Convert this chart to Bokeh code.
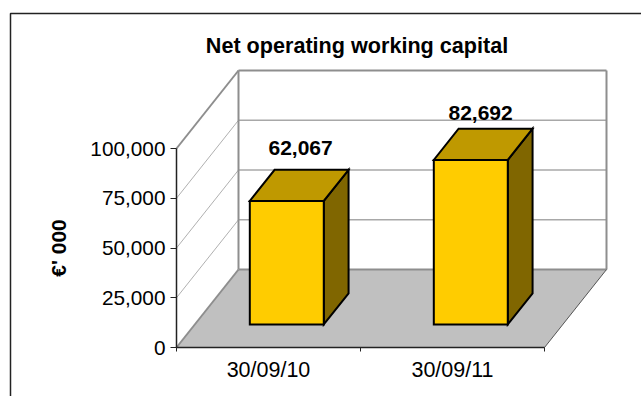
from bokeh.core.properties import value
from bokeh.embed import file_html
from bokeh.models import (BoxAnnotation, ColumnDataSource, FixedTicker,
                          LinearAxis, Range1d)
from bokeh.plotting import figure
from bokeh.resources import INLINE

# Chart content
TITLE = "Net operating working capital"
Y_LABEL = "€' 000"
categories = ["30/09/10", "30/09/11"]
capital = [62067, 82692]
value_ticks = [0, 25000, 50000, 75000, 100000]
value_tick_labels = ["0", "25,000", "50,000", "75,000", "100,000"]

W, H = 641, 396
FONT = "Liberation Sans"

# Pixel placement of the plot box's front face
LEFT_PX, RIGHT_PX = 176.0, 544.0
ZERO_PX, TOP_PX = 347.0, 148.0
UNIT_PX = (RIGHT_PX - LEFT_PX) / len(categories)
VALUE_PX = (ZERO_PX - TOP_PX) / value_ticks[-1]

# Oblique projection: depth runs 0 (front) to 1 (back wall)
DEPTH_DX = 62.0 / UNIT_PX
DEPTH_DY = 78.0 / VALUE_PX


def project(cat, val, depth=0.0):
    return cat + depth * DEPTH_DX, val + depth * DEPTH_DY


def path(*points):
    pts = [project(*pt) for pt in points]
    return [q[0] for q in pts], [q[1] for q in pts]


p = figure(
    width=W, height=H, output_backend="svg", toolbar_location=None,
    x_range=Range1d(-LEFT_PX / UNIT_PX, (W - LEFT_PX) / UNIT_PX),
    y_range=Range1d(-(H - ZERO_PX) / VALUE_PX, ZERO_PX / VALUE_PX),
    x_axis_type=None, y_axis_type=None, min_border=0,
)
p.grid.visible = False
p.outline_line_color = None
p.background_fill_color = "white"
p.border_fill_color = "white"

n = len(categories)
top = value_ticks[-1]

# Floor of the box
fx, fy = path((0, 0, 0), (n, 0, 0), (n, 0, 1), (0, 0, 1))
p.patch(fx, fy, fill_color="#C0C0C0", line_color=None)

# Gridlines across the side wall and back wall
for v in value_ticks[1:-1]:
    sx, sy = path((0, v, 0), (0, v, 1))
    p.line(sx, sy, line_color="#B0B0B0", line_width=1)
    bx, by = path((0, v, 1), (n, v, 1))
    p.line(bx, by, line_color="#A8A8A8", line_width=1.3)

# Wall outlines
for a, b in [((0, top, 0), (0, top, 1)), ((0, top, 1), (n, top, 1)),
             ((0, top, 1), (0, 0, 1)), ((n, top, 1), (n, 0, 1)),
             ((0, 0, 1), (n, 0, 1)), ((0, 0, 0), (0, 0, 1))]:
    ex, ey = path(a, b)
    p.line(ex, ey, line_color="#8E8E8E", line_width=2)
ex, ey = path((n, 0, 0), (n, 0, 1))
p.line(ex, ey, line_color="#555555", line_width=1)

# Bars as three-faced prisms
BAR_WIDTH = 0.402
BAR_D0, BAR_D1 = 0.295, 0.695
EDGE = dict(line_color="black", line_width=2, line_join="miter")
for i, v in enumerate(capital):
    x0 = i + 0.5 - BAR_WIDTH / 2
    x1 = x0 + BAR_WIDTH
    sx, sy = path((x1, 0, BAR_D0), (x1, 0, BAR_D1), (x1, v, BAR_D1), (x1, v, BAR_D0))
    p.patch(sx, sy, fill_color="#806600", **EDGE)
    tx, ty = path((x0, v, BAR_D0), (x1, v, BAR_D0), (x1, v, BAR_D1), (x0, v, BAR_D1))
    p.patch(tx, ty, fill_color="#BF9900", **EDGE)
    qx, qy = path((x0, 0, BAR_D0), (x1, 0, BAR_D0), (x1, v, BAR_D0), (x0, v, BAR_D0))
    p.patch(qx, qy, fill_color="#FFCC00", **EDGE)

# Value labels above the bars
lx, ly = path(*[(i + 0.5 + BAR_WIDTH / 2, v, BAR_D1) for i, v in enumerate(capital)])
labels = ColumnDataSource(dict(
    x=lx, y=ly, text=[f"{v:,}" for v in capital],
    xo=[-48.0, -52.0], yo=[-22.0, -15.5],
))
p.text("x", "y", text="text", source=labels, x_offset="xo", y_offset="yo",
       text_font=value(FONT), text_font_style="bold", text_font_size="21px",
       text_align="center", text_baseline="middle", text_color="black")

# Axes
yaxis = LinearAxis(
    fixed_location=0, bounds=(0, top),
    ticker=FixedTicker(ticks=value_ticks, minor_ticks=[]),
    major_label_overrides=dict(zip(value_ticks, value_tick_labels)),
    major_label_text_font=FONT, major_label_text_font_size="20.8px",
    major_label_text_color="black", major_label_standoff=5,
    major_tick_in=0, major_tick_out=6, major_tick_line_color="#222222",
    minor_tick_line_color=None,
    axis_line_color="#222222", axis_line_width=1.5,
    axis_label=Y_LABEL, axis_label_text_font=FONT,
    axis_label_text_font_style="bold", axis_label_text_font_size="21px",
    axis_label_text_color="black", axis_label_standoff=17,
)
p.add_layout(yaxis, "left")

centers = [i + 0.5 for i in range(n)]
xaxis = LinearAxis(
    fixed_location=0, bounds=(0, n),
    ticker=FixedTicker(ticks=centers, minor_ticks=list(range(n + 1))),
    major_label_overrides=dict(zip(centers, categories)),
    major_label_text_font=FONT, major_label_text_font_size="21.5px",
    major_label_text_color="black", major_label_standoff=4,
    major_tick_line_color=None, minor_tick_in=0, minor_tick_out=4,
    minor_tick_line_color="#222222",
    axis_line_color="#222222", axis_line_width=1.5,
)
p.add_layout(xaxis, "below")

# Chart-area border, open past the window's right and bottom edges
p.add_layout(BoxAnnotation(left=10, right=W + 20, top=H - 13, bottom=-20,
                           left_units="screen", right_units="screen",
                           top_units="screen", bottom_units="screen",
                           fill_color=None, line_color="#222222", line_alpha=1.0,
                           line_width=1.5, level="annotation"))

# Chart title, centred over the box
p.text([project(n / 2, 0, 0)[0]], [project(0, top, 1)[1]], text=[TITLE],
       x_offset=[-3.5], y_offset=[-25.0],
       text_font=value(FONT), text_font_style="bold", text_font_size="21.6px",
       text_align="center", text_baseline="middle", text_color="black")

open("out.html", "w").write(file_html(p, INLINE))
